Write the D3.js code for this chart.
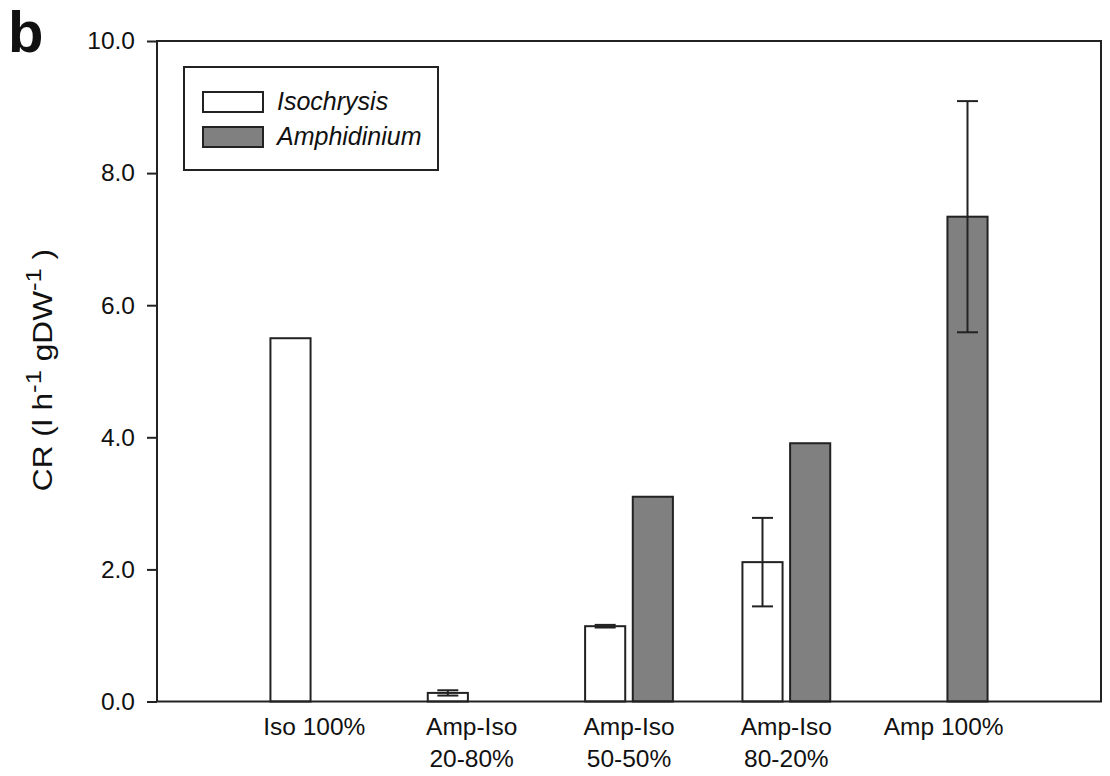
<!DOCTYPE html>
<html>
<head>
<meta charset="utf-8">
<script src="https://cdn.jsdelivr.net/npm/d3@7"></script>
<style>
  html, body { margin: 0; padding: 0; background: #fff; }
  svg { display: block; font-family: "Liberation Sans", Arial, sans-serif; }
</style>
</head>
<body>
<svg id="chart" width="1110" height="776"></svg>
<script>
// Clearance rate per diet treatment
const categories = [["Iso 100%"], ["Amp-Iso", "20-80%"], ["Amp-Iso", "50-50%"], ["Amp-Iso", "80-20%"], ["Amp 100%"]];
const isoValues = [5.50, 0.13, 1.14, 2.11, null];
const isoErrors = [null, 0.04, 0.02, 0.67, null];
const ampValues = [null, null, 3.10, 3.91, 7.34];
const ampErrors = [null, null, null, null, 1.75];
const yTicks = [0, 2, 4, 6, 8, 10];
const seriesNames = ["Isochrysis", "Amphidinium"];

const ink = "#222";
const grey = "#808080";

const svg = d3.select("#chart");
const plotLeft = 157, plotRight = 1101, plotTop = 41, plotBottom = 701.5;

const x = d3.scaleLinear().domain([0, categories.length + 1]).range([plotLeft, plotRight]);
const y = d3.scaleLinear().domain([0, 10]).range([plotBottom, plotTop]);
const unit = x(1) - x(0);
const barW = unit * 0.255;
const gap = unit * 0.024;

// panel letter
svg.append("text").attr("x", 8).attr("y", 52)
  .attr("font-size", 58).attr("font-weight", "bold").attr("fill", "#111").text("b");

// y axis with ticks and labels
const yAxis = d3.axisLeft(y).tickValues(yTicks).tickFormat(d3.format(".1f")).tickSize(10).tickPadding(12);
const gy = svg.append("g").attr("transform", `translate(${plotLeft},0)`).call(yAxis);
gy.select(".domain").remove();
gy.selectAll(".tick line").attr("stroke", ink).attr("stroke-width", 2);
gy.selectAll(".tick text").attr("font-size", 24.5).attr("fill", "#111")
  .attr("font-family", "'Liberation Sans', Arial, sans-serif");

// bars
const groups = categories.map((c, i) => ({
  i, iso: isoValues[i], isoErr: isoErrors[i], amp: ampValues[i], ampErr: ampErrors[i]
}));

const bars = [];
groups.forEach(g => {
  const c = x(g.i + 1);
  if (g.iso != null) bars.push({ x0: c - gap - barW, v: g.iso, err: g.isoErr, fill: "#fff" });
  if (g.amp != null) bars.push({ x0: c + gap, v: g.amp, err: g.ampErr, fill: grey });
});

svg.append("g").selectAll("rect").data(bars).join("rect")
  .attr("x", d => d.x0).attr("width", barW)
  .attr("y", d => y(d.v)).attr("height", d => y(0) - y(d.v))
  .attr("fill", d => d.fill).attr("stroke", ink).attr("stroke-width", 2);

// error bars
const capW = 21;
const eb = svg.append("g").attr("stroke", ink).attr("stroke-width", 2);
bars.filter(d => d.err != null).forEach(d => {
  const cx = d.x0 + barW / 2;
  eb.append("line").attr("x1", cx).attr("x2", cx).attr("y1", y(d.v + d.err)).attr("y2", y(d.v - d.err));
  [d.v + d.err, d.v - d.err].forEach(v => {
    eb.append("line").attr("x1", cx - capW / 2).attr("x2", cx + capW / 2).attr("y1", y(v)).attr("y2", y(v));
  });
});

// plot frame
svg.append("rect").attr("x", plotLeft).attr("y", plotTop)
  .attr("width", plotRight - plotLeft).attr("height", plotBottom - plotTop)
  .attr("fill", "none").attr("stroke", ink).attr("stroke-width", 2);

// category labels
categories.forEach((lines, i) => {
  const t = svg.append("text").attr("x", x(i + 1)).attr("y", 735)
    .attr("text-anchor", "middle").attr("font-size", 24.5).attr("fill", "#111");
  lines.forEach((s, k) => {
    t.append("tspan").attr("x", x(i + 1)).attr("dy", k === 0 ? 0 : 32).text(s);
  });
});

// y axis title with superscripts (set slightly wide)
const yt = svg.append("text").attr("transform", "translate(52,370) rotate(-90) scale(1.17,1)")
  .attr("text-anchor", "middle").attr("font-size", 27).attr("fill", "#111");
yt.append("tspan").text("CR (l h");
yt.append("tspan").attr("font-size", 22).attr("dy", -11).text("-1");
yt.append("tspan").attr("dy", 11).text(" gDW");
yt.append("tspan").attr("font-size", 22).attr("dy", -11).text("-1");
yt.append("tspan").attr("dy", 11).text(" )");

// legend
const lg = svg.append("g");
lg.append("rect").attr("x", 184).attr("y", 67).attr("width", 254).attr("height", 103)
  .attr("fill", "#fff").attr("stroke", ink).attr("stroke-width", 2);
[["#fff", 92], [grey, 127]].forEach(([fill, yy], k) => {
  lg.append("rect").attr("x", 203).attr("y", yy).attr("width", 60).attr("height", 20)
    .attr("fill", fill).attr("stroke", ink).attr("stroke-width", 2);
  lg.append("text").attr("x", 277).attr("y", yy + 18).attr("font-size", 25)
    .attr("font-style", "italic").attr("fill", "#111").text(seriesNames[k]);
});
</script>
</body>
</html>
